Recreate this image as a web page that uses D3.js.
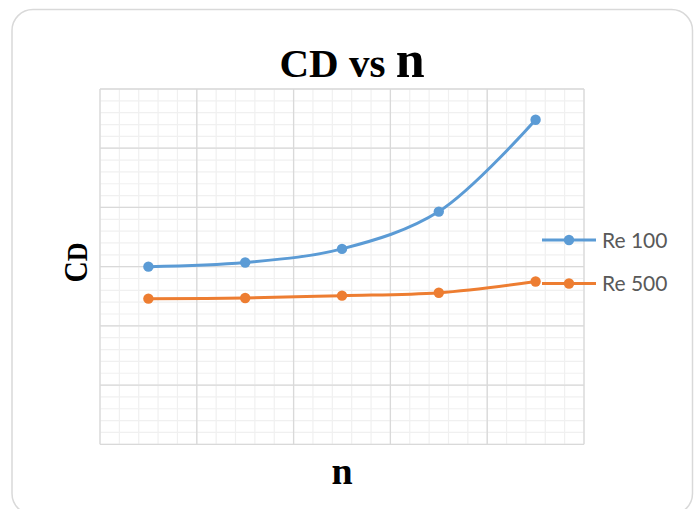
<!DOCTYPE html>
<html>
<head>
<meta charset="utf-8">
<script src="https://cdn.jsdelivr.net/npm/d3@7/dist/d3.min.js"></script>
<style>
  html, body { margin: 0; padding: 0; background: #fff; }
  svg { display: block; }
</style>
</head>
<body>
<svg id="chart" width="694" height="509"></svg>
<script>
// Drag coefficient against n for two Reynolds numbers
const categories = ["1", "2", "3", "4", "5"];
const seriesNames = ["Re 100", "Re 500"];
const re100 = [3.00, 3.07, 3.30, 3.93, 5.48];
const re500 = [2.46, 2.47, 2.51, 2.56, 2.75];
const yTicks = [0, 1, 2, 3, 4, 5, 6];
const colors = ["#5B9BD5", "#ED7D31"];

const svg = d3.select("#chart");
const plot = { left: 100, right: 584, top: 89, bottom: 444.3 };

// outer chart frame
svg.append("rect")
  .attr("x", 12).attr("y", 9.5)
  .attr("width", 680.5).attr("height", 505)
  .attr("rx", 21).attr("ry", 21)
  .attr("fill", "#fff")
  .attr("stroke", "#d9d9d9").attr("stroke-width", 1.5);

const x = d3.scalePoint().domain(categories).range([plot.left, plot.right]).padding(0.5);
const xGrid = d3.scaleLinear().domain([0, categories.length]).range([plot.left, plot.right]);
const y = d3.scaleLinear().domain([yTicks[0], yTicks[yTicks.length - 1]]).range([plot.bottom, plot.top]);

const grid = svg.append("g");
// minor grid (fifths of each major step)
const xMinor = d3.range(0, categories.length + 0.0001, 0.2);
const yMinor = d3.range(yTicks[0], yTicks[yTicks.length - 1] + 0.0001, 0.2);
grid.selectAll(".vminor").data(xMinor).join("line")
  .attr("x1", d => xGrid(d)).attr("x2", d => xGrid(d))
  .attr("y1", plot.top).attr("y2", plot.bottom)
  .attr("stroke", "#f0f0f0").attr("stroke-width", 1.2);
grid.selectAll(".hminor").data(yMinor).join("line")
  .attr("y1", d => y(d)).attr("y2", d => y(d))
  .attr("x1", plot.left).attr("x2", plot.right)
  .attr("stroke", "#f0f0f0").attr("stroke-width", 1.2);
// major grid
grid.selectAll(".vmajor").data(d3.range(0, categories.length + 1)).join("line")
  .attr("x1", d => xGrid(d)).attr("x2", d => xGrid(d))
  .attr("y1", plot.top).attr("y2", plot.bottom)
  .attr("stroke", "#d9d9d9").attr("stroke-width", 1.3);
grid.selectAll(".hmajor").data(yTicks).join("line")
  .attr("y1", d => y(d)).attr("y2", d => y(d))
  .attr("x1", plot.left).attr("x2", plot.right)
  .attr("stroke", "#d9d9d9").attr("stroke-width", 1.3);

// series
const line = d3.line()
  .x((d, i) => x(categories[i]))
  .y(d => y(d))
  .curve(d3.curveCatmullRom.alpha(0.5));

[re100, re500].forEach((vals, s) => {
  const g = svg.append("g");
  g.append("path").attr("d", line(vals))
    .attr("fill", "none").attr("stroke", colors[s])
    .attr("stroke-width", 3).attr("stroke-linecap", "round");
  g.selectAll("circle").data(vals).join("circle")
    .attr("cx", (d, i) => x(categories[i])).attr("cy", d => y(d))
    .attr("r", 5.2).attr("fill", colors[s]);
});

// legend
const legend = svg.append("g");
seriesNames.forEach((name, s) => {
  const ly = 240 + s * 43.5;
  legend.append("line").attr("x1", 542).attr("x2", 596)
    .attr("y1", ly).attr("y2", ly)
    .attr("stroke", colors[s]).attr("stroke-width", 3);
  legend.append("circle").attr("cx", 569).attr("cy", ly).attr("r", 5.2).attr("fill", colors[s]);
  legend.append("text").attr("x", 602).attr("y", ly + 7.5)
    .attr("font-family", "Lato, 'Open Sans', sans-serif")
    .attr("font-size", 21).attr("fill", "#595959")
    .text(name);
});

// title
const title = svg.append("text")
  .attr("x", 352).attr("y", 77)
  .attr("text-anchor", "middle")
  .attr("font-family", "'Liberation Serif', 'Times New Roman', serif")
  .attr("font-weight", "bold").attr("fill", "#000");
title.append("tspan").attr("font-size", 41).text("CD vs ");
title.append("tspan").attr("font-size", 52).text("n");

// axis titles
const yTitle = svg.append("text")
  .attr("transform", "translate(86.5,262.5) rotate(-90)")
  .attr("text-anchor", "middle")
  .attr("font-family", "'Liberation Serif', 'Times New Roman', serif")
  .attr("font-weight", "bold").attr("fill", "#000")
  .attr("textLength", 40).attr("lengthAdjust", "spacingAndGlyphs");
yTitle.append("tspan").attr("font-size", 34).text("C");
yTitle.append("tspan").attr("font-size", 30).text("D");

svg.append("text")
  .attr("x", 342).attr("y", 484)
  .attr("text-anchor", "middle")
  .attr("font-family", "'Liberation Serif', 'Times New Roman', serif")
  .attr("font-weight", "bold").attr("font-size", 38).attr("fill", "#000")
  .text("n");
</script>
</body>
</html>
